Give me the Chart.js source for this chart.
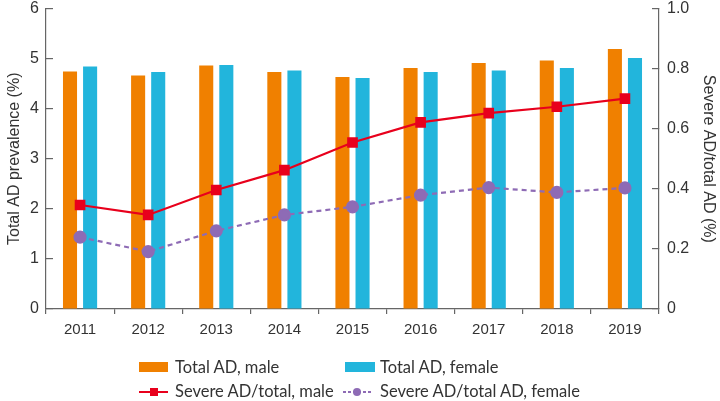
<!DOCTYPE html>
<html>
<head>
<meta charset="utf-8">
<script src="https://cdn.jsdelivr.net/npm/chart.js@4.4.1/dist/chart.umd.min.js"></script>
<style>
  html, body { margin: 0; padding: 0; background: #fff; }
  #wrap { position: relative; width: 720px; height: 401px; }
  #chart { position: absolute; left: 0; top: 0; }
  .leg { position: absolute; font-family: Lato, "Noto Sans", sans-serif; font-size: 16.5px; color: #333; line-height: 20px; white-space: nowrap; }
  .sym { position: absolute; }
</style>
</head>
<body>
<div id="wrap">
  <canvas id="chart" width="720" height="401"></canvas>
  <svg class="sym" style="left:139px;top:362px" width="30" height="11"><rect x="0" y="0" width="29" height="10" fill="#f08000"/></svg>
  <div class="leg" style="left:175px;top:357px">Total AD, male</div>
  <svg class="sym" style="left:345px;top:362px" width="31" height="11"><rect x="0" y="0" width="30" height="10" fill="#22b5dc"/></svg>
  <div class="leg" style="left:380px;top:357px">Total AD, female</div>
  <svg class="sym" style="left:139px;top:386px" width="30" height="12"><line x1="0" y1="6" x2="29" y2="6" stroke="#e8001c" stroke-width="2"/><rect x="11" y="2" width="8" height="8" fill="#e8001c"/></svg>
  <div class="leg" style="left:175px;top:381px">Severe AD/total, male</div>
  <svg class="sym" style="left:343px;top:386px" width="32" height="12"><line x1="0" y1="6" x2="30" y2="6" stroke="#8e6bb5" stroke-width="2" stroke-dasharray="3,2"/><circle cx="14" cy="6" r="4" fill="#8e6bb5"/></svg>
  <div class="leg" style="left:380px;top:381px">Severe AD/total AD, female</div>
</div>
<script>
const years = ["2011", "2012", "2013", "2014", "2015", "2016", "2017", "2018", "2019"];
const totalMale = [4.74, 4.66, 4.86, 4.73, 4.63, 4.81, 4.91, 4.96, 5.19];
const totalFemale = [4.84, 4.73, 4.87, 4.76, 4.61, 4.73, 4.76, 4.81, 5.01];
const severeMale = [0.346, 0.313, 0.396, 0.462, 0.554, 0.621, 0.652, 0.673, 0.70];
const severeFemale = [0.239, 0.191, 0.26, 0.313, 0.34, 0.379, 0.404, 0.388, 0.403];

const axisColor = "#666";
const textColor = "#333";
const arial = "'Liberation Sans', Arial, sans-serif";
const tickFont = { family: arial, size: 16 };

function fitY(width) {
    return s => {
        s.width = width;
        s.paddingTop = 8.5;
        s.paddingBottom = 0;
    };
}

new Chart(document.getElementById("chart"), {
    data: {
        labels: years,
        datasets: [
            {
                type: "line",
                label: "Severe AD/total, male",
                data: severeMale,
                yAxisID: "y1",
                borderColor: "#e8001c",
                backgroundColor: "#e8001c",
                borderWidth: 2.2,
                pointStyle: "rect",
                pointRadius: 6,
                pointHoverRadius: 6,
                order: 1
            },
            {
                type: "line",
                label: "Severe AD/total AD, female",
                data: severeFemale,
                yAxisID: "y1",
                borderColor: "#8e6bb5",
                backgroundColor: "#8e6bb5",
                borderWidth: 2.2,
                borderDash: [5, 4],
                pointStyle: "circle",
                pointRadius: 5.5,
                pointHoverRadius: 5.5,
                order: 2
            },
            {
                type: "bar",
                label: "Total AD, male",
                data: totalMale,
                yAxisID: "y",
                backgroundColor: "#f08000",
                barPercentage: 0.7,
                categoryPercentage: 0.59,
                order: 3
            },
            {
                type: "bar",
                label: "Total AD, female",
                data: totalFemale,
                yAxisID: "y",
                backgroundColor: "#22b5dc",
                barPercentage: 0.7,
                categoryPercentage: 0.59,
                order: 4
            }
        ]
    },
    options: {
        responsive: false,
        animation: false,
        layout: { padding: { top: 0, right: 0, bottom: 56, left: 0 } },
        plugins: {
            legend: { display: false },
            tooltip: { enabled: false }
        },
        scales: {
            x: {
                grid: { display: true, drawOnChartArea: false, drawTicks: true, tickLength: 5, color: axisColor, lineWidth: 1.2 },
                border: { color: axisColor, width: 1.2 },
                ticks: { color: textColor, font: { family: arial, size: 15 }, padding: 7, maxRotation: 0 },
                afterFit: s => { s.height = 36; s.paddingLeft = 0; s.paddingRight = 0; }
            },
            y: {
                position: "left",
                min: 0,
                max: 6,
                grid: { display: true, drawOnChartArea: false, drawTicks: true, tickLength: -7, color: axisColor, lineWidth: 1.2 },
                border: { color: axisColor, width: 1.2 },
                ticks: { stepSize: 1, color: textColor, font: tickFont, padding: 14 },
                title: { display: true, text: "Total AD prevalence (%)", color: textColor, font: { family: arial, size: 16 }, padding: { top: 5, bottom: 0 } },
                afterFit: fitY(46)
            },
            y1: {
                position: "right",
                min: 0,
                max: 1,
                grid: { display: true, drawOnChartArea: false, drawTicks: true, tickLength: -7, color: axisColor, lineWidth: 1.2 },
                border: { color: axisColor, width: 1.2 },
                ticks: {
                    stepSize: 0.2,
                    color: textColor,
                    font: tickFont,
                    padding: 15,
                    callback: v => v === 0 ? "0" : v.toFixed(1)
                },
                title: { display: true, text: "Severe AD/total AD (%)", color: textColor, font: { family: arial, size: 16 }, padding: { top: 2, bottom: 0 } },
                afterFit: fitY(61)
            }
        }
    }
});
</script>
</body>
</html>
